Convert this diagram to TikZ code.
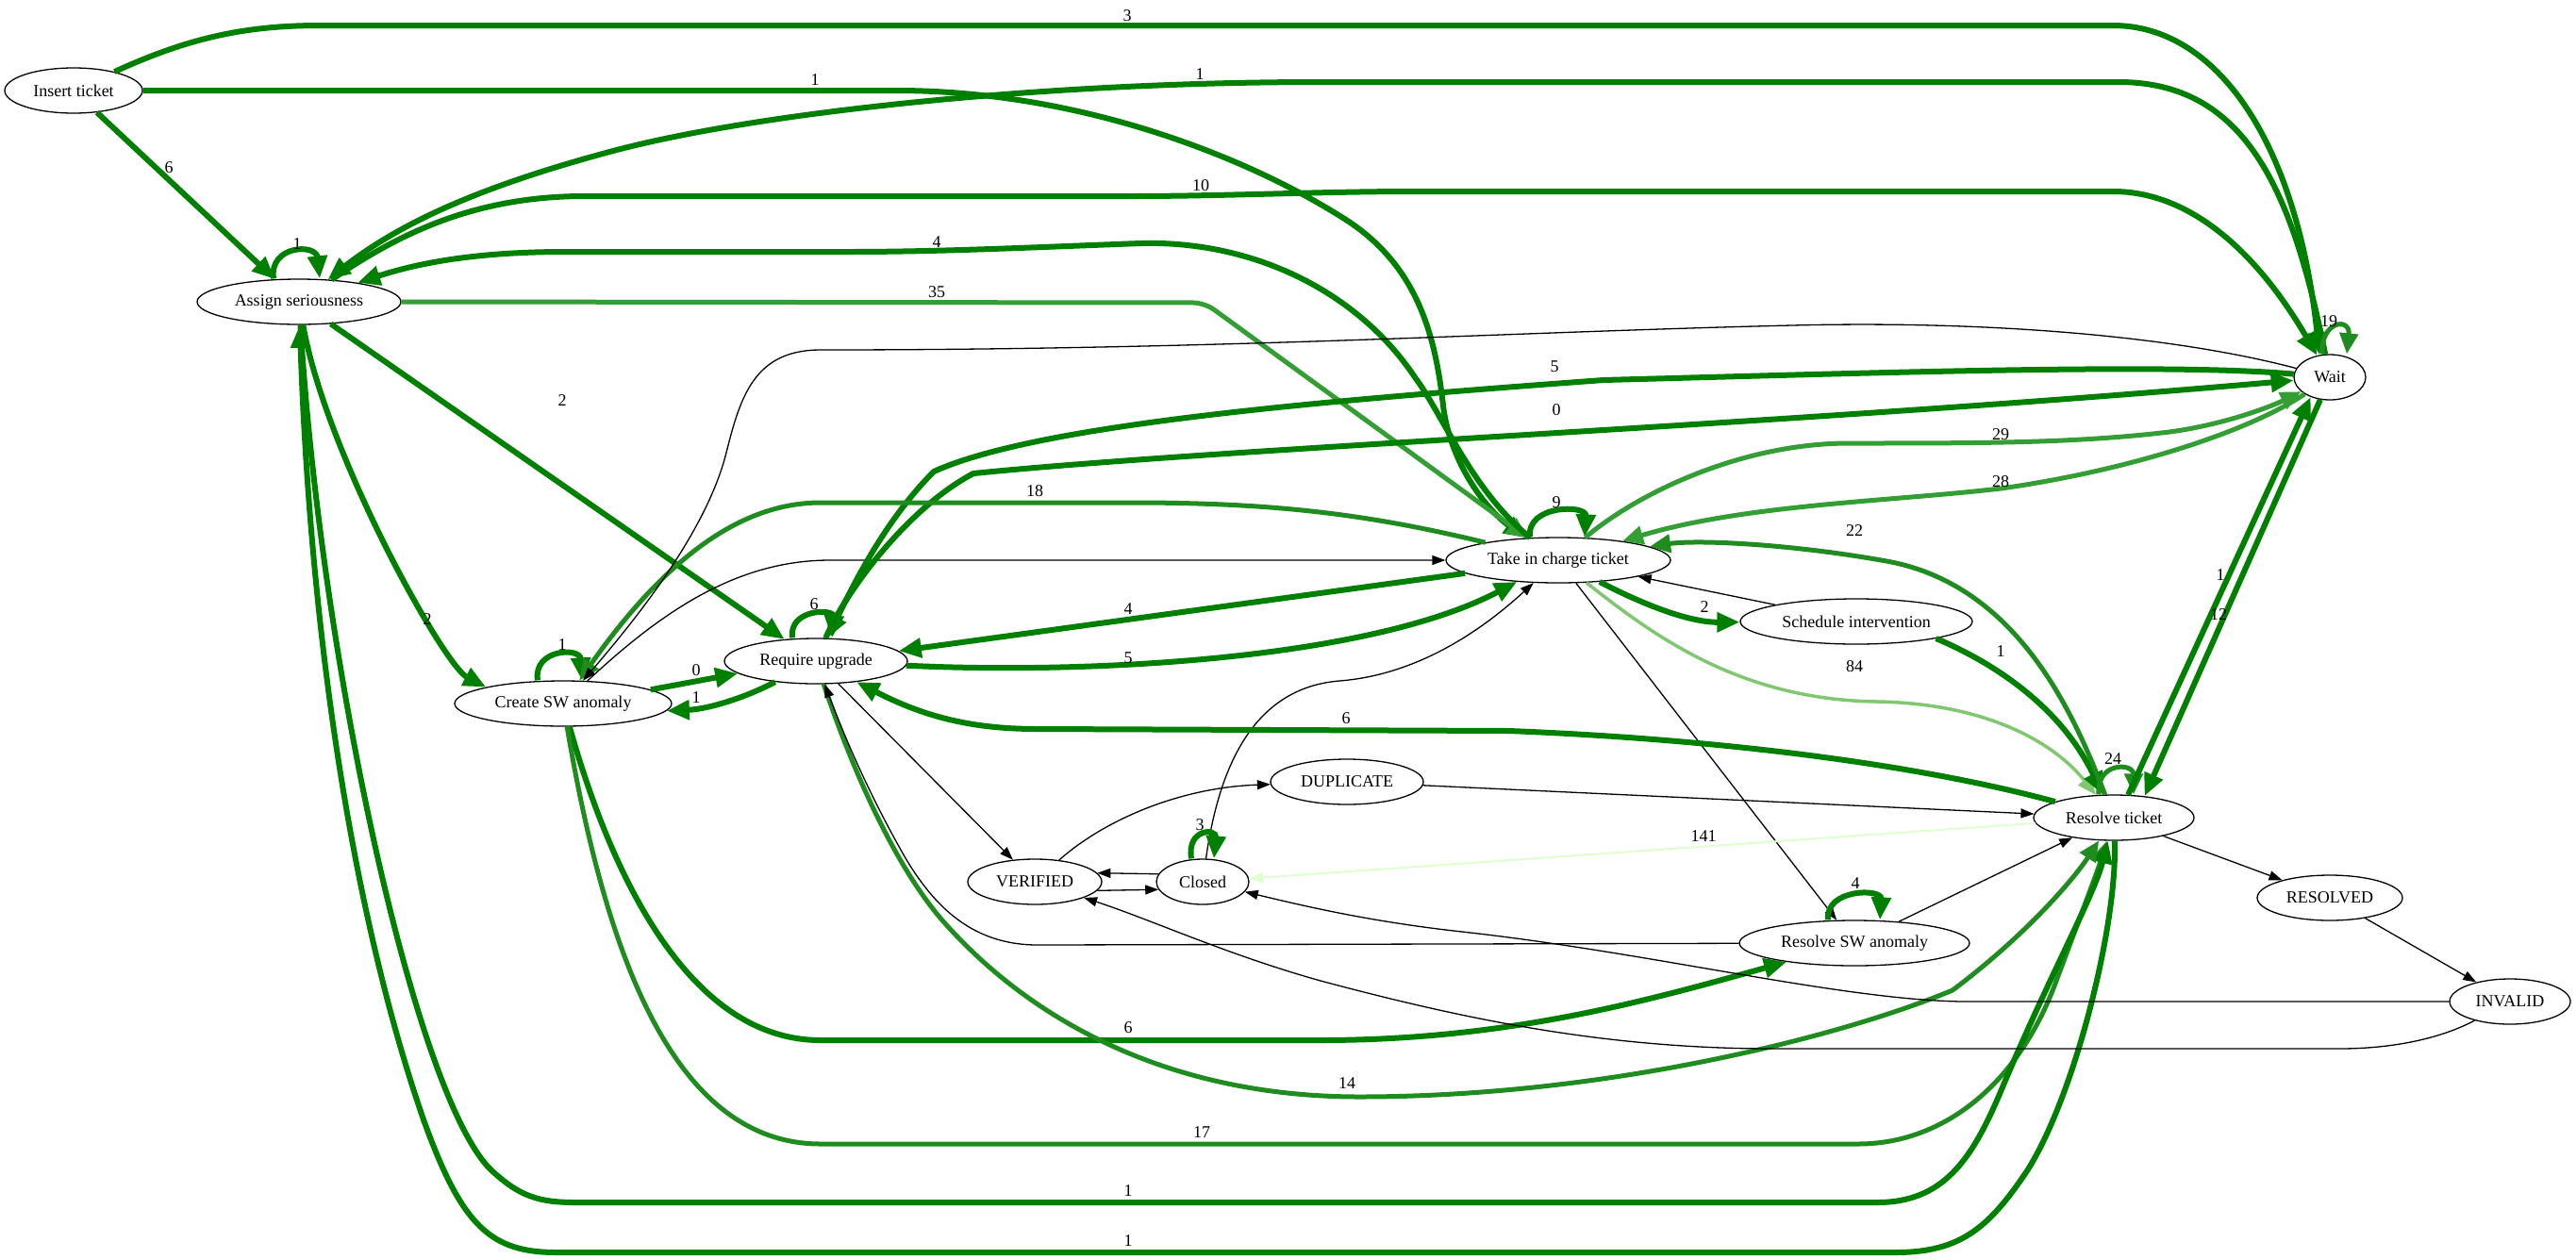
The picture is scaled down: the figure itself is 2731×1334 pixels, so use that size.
\documentclass[tikz,border=0pt]{standalone}
\usepackage{fontspec}
\setmainfont{Liberation Serif}
\usetikzlibrary{shapes.geometric,arrows.meta}
\definecolor{gA}{RGB}{0,128,0}
\definecolor{gB}{RGB}{30,140,30}
\definecolor{gC}{RGB}{51,158,51}
\definecolor{gD}{RGB}{128,200,112}
\definecolor{gE}{RGB}{224,255,208}
\begin{document}
\begin{tikzpicture}[x=1pt,y=-1pt,
  st/.style={ellipse,draw=black,line width=1.3pt,minimum height=48pt,inner sep=0pt,
             font=\fontsize{18}{20}\selectfont},
  lbl/.style={font=\fontsize{18}{20}\selectfont,inner sep=0pt},
  eA/.style={draw=gA,line width=6pt,-{Triangle[length=24pt,width=20pt]}},
  eB/.style={draw=gB,line width=5pt,-{Triangle[length=22pt,width=19pt]}},
  eC/.style={draw=gC,line width=5pt,-{Triangle[length=22pt,width=19pt]}},
  eD/.style={draw=gD,line width=3.5pt,-{Triangle[length=20pt,width=16pt]}},
  eE/.style={draw=gE,line width=2pt,-{Triangle[length=15pt,width=11pt]}},
  eK/.style={draw=black,line width=1.3pt,-{Triangle[length=14pt,width=10pt]}}]

\fill[white] (0,0) rectangle (2731,1334);
\useasboundingbox (0,0) rectangle (2731,1334);

% states
\node[st,minimum width=146pt] (ins) at (78,96) {Insert ticket};
\node[st,minimum width=216pt] (ass) at (317,320) {Assign seriousness};
\node[st,minimum width=230pt] (cre) at (597,746) {Create SW anomaly};
\node[st,minimum width=194pt] (req) at (865,701) {Require upgrade};
\node[st,minimum width=238pt] (tak) at (1652,594) {Take in charge ticket};
\node[st,minimum width=246pt] (sch) at (1968,659) {Schedule intervention};
\node[st,minimum width=170pt] (res) at (2241,867) {Resolve ticket};
\node[st,minimum width=76pt]  (wai) at (2470,400) {Wait};
\node[st,minimum width=162pt] (dup) at (1428,829) {DUPLICATE};
\node[st,minimum width=142pt] (ver) at (1097,935) {VERIFIED};
\node[st,minimum width=98pt]  (clo) at (1275,935) {Closed};
\node[st,minimum width=244pt] (rsw) at (1966,1000) {Resolve SW anomaly};
\node[st,minimum width=154pt] (rsd) at (2470,952) {RESOLVED};
\node[st,minimum width=128pt] (inv) at (2661,1062) {INVALID};

% from Insert ticket
\draw[eA] (ins) .. controls (200,40) and (260,27) .. (340,27) -- (2240,27)
  .. controls (2350,27) and (2435,150) .. (wai.115);
\node[lbl] (l01) at (1195,17) {3};
\draw[eA] (ins.east) -- (950,96) .. controls (1150,96) and (1330,170) .. (1430,235)
  .. controls (1505,285) and (1522,360) .. (1530,430)
  .. controls (1537,490) and (1575,540) .. (tak);
\node[lbl] (l02) at (864,85) {1};
\draw[eA] (ins) -- (ass);
\node[lbl] (l03) at (179,178) {6};

% Assign seriousness
\draw[eA] ([xshift=-27pt]ass.north) .. controls (285,260) and (335,258) .. ([xshift=22pt]ass.north);
\node[lbl] (l04) at (315,259) {1};
\draw[eA] (ass) .. controls (420,250) and (500,208) .. (620,208) -- (1200,208)
  .. controls (1300,208) and (1400,203) .. (1500,203) -- (2240,203)
  .. controls (2330,203) and (2400,280) .. (wai);
\node[lbl] (l05) at (1273,197) {10};
\draw[eA] (wai) .. controls (2430,200) and (2380,87) .. (2246,87) -- (1400,87)
  .. controls (1100,87) and (800,120) .. (650,160)
  .. controls (500,200) and (420,240) .. (ass);
\node[lbl] (l06) at (1272,79) {1};
\draw[eC,rounded corners=12pt] (ass.east) -- (1277,321) -- (tak);
\node[lbl] (l07) at (993,310) {35};
\draw[eA] (tak) .. controls (1560,520) and (1530,440) .. (1500,400)
  .. controls (1440,310) and (1330,255) .. (1210,258)
  .. controls (1100,262) and (1000,267) .. (900,267) -- (600,267)
  .. controls (500,267) and (440,280) .. (ass);
\node[lbl] (l08) at (993,257) {4};
\draw[eA] (ass) -- (req);
\node[lbl] (l09) at (596,425) {2};
\draw[eA] (ass) .. controls (345,480) and (470,705) .. (cre.north west);
\node[lbl] (l10) at (453,657) {2};

% Create SW anomaly
\draw[eA] ([xshift=-27pt]cre.north) .. controls (565,688) and (615,686) .. ([xshift=20pt]cre.north);
\node[lbl] (l11) at (596,684) {1};
\draw[eA] (cre.9) -- (req.189);
\node[lbl] (l12) at (738,711) {0};
\draw[eA] (req.207) .. controls (790,740) and (750,752) .. (cre.356);
\node[lbl] (l13) at (738,740) {1};
\draw[eK] (cre) .. controls (700,650) and (780,594) .. (880,594) -- (tak);
\draw[eA] (cre) .. controls (640,900) and (720,1103) .. (870,1103) -- (1400,1103)
  .. controls (1600,1103) and (1750,1060) .. (rsw);
\node[lbl] (l14) at (1196,1090) {6};
\draw[eB] (cre) .. controls (640,1000) and (710,1213) .. (870,1213) -- (1970,1213)
  .. controls (2060,1213) and (2140,1150) .. (2180,1040)
  .. controls (2210,960) and (2225,920) .. (res);
\node[lbl] (l15) at (1274,1201) {17};

% Assign seriousness <-> Resolve ticket
\draw[eA] (ass) .. controls (340,700) and (440,1160) .. (520,1240)
  .. controls (550,1268) and (570,1275) .. (610,1275) -- (1990,1275)
  .. controls (2060,1275) and (2090,1230) .. (2120,1160)
  .. controls (2170,1040) and (2220,950) .. (res);
\node[lbl] (l16) at (1196,1263) {1};
\draw[eA] (res) .. controls (2245,980) and (2200,1160) .. (2150,1240)
  .. controls (2110,1300) and (2080,1328) .. (2010,1328) -- (590,1328)
  .. controls (520,1328) and (490,1300) .. (450,1190)
  .. controls (380,990) and (330,700) .. (ass);
\node[lbl] (l17) at (1196,1316) {1};

% Require upgrade
\draw[eA] ([xshift=-25pt]req.north) .. controls (836,645) and (885,645) .. ([xshift=17pt]req.north);
\node[lbl] (l18) at (863,641) {6};
\draw[eA] (req) .. controls (895,630) and (960,540) .. (1032,502)
  .. controls (1300,475) and (1900,450) .. (wai);
\node[lbl] (l19) at (1650,435) {0};
\draw[eA] (wai) .. controls (2300,385) and (2000,395) .. (1700,403)
  .. controls (1400,425) and (1100,450) .. (990,500)
  .. controls (935,555) and (900,630) .. (req);
\node[lbl] (l20) at (1648,389) {5};
\draw[eA] (req) .. controls (1150,715) and (1450,700) .. (tak);
\node[lbl] (l21) at (1196,698) {5};
\draw[eA] (tak.188) -- (req.7);
\node[lbl] (l22) at (1196,646) {4};
\draw[eK] (req) -- (ver);
\draw[eB] (req) .. controls (905,820) and (950,920) .. (1000,977)
  .. controls (1100,1090) and (1250,1163) .. (1441,1163)
  .. controls (1700,1163) and (1950,1100) .. (2070,1050)
  .. controls (2150,990) and (2200,930) .. (res);
\node[lbl] (l23) at (1428,1149) {14};

% Take in charge ticket
\draw[eA] ([xshift=-30pt]tak.north) .. controls (1618,535) and (1682,535) .. ([xshift=28pt]tak.north);
\node[lbl] (l24) at (1650,533) {9};
\draw[eB] (tak) .. controls (1450,545) and (1350,533) .. (1200,533) -- (870,533)
  .. controls (780,533) and (700,600) .. (cre);
\node[lbl] (l25) at (1097,521) {18};
\draw[eC] (tak) .. controls (1740,520) and (1850,470) .. (1960,470)
  .. controls (2100,470) and (2200,470) .. (2300,458)
  .. controls (2360,450) and (2410,430) .. (wai);
\node[lbl] (l26) at (2121,461) {29};
\draw[eC] (wai) .. controls (2380,460) and (2250,500) .. (2121,518)
  .. controls (2000,532) and (1850,535) .. (tak);
\node[lbl] (l27) at (2121,511) {28};
\draw[eA] (tak) .. controls (1740,640) and (1790,660) .. (sch);
\node[lbl] (l28) at (1807,644) {2};
\draw[eK] (sch) -- (tak);
\draw[eK] (tak) -- (rsw);
\draw[eD] (tak) .. controls (1760,680) and (1850,742) .. (1990,744)
  .. controls (2110,746) and (2180,790) .. (res);
\node[lbl] (l29) at (1966,707) {84};
\draw[eK] (clo) .. controls (1290,830) and (1320,730) .. (1420,722)
  .. controls (1510,715) and (1580,660) .. (tak);

% Schedule intervention
\draw[eA] (sch.-12) .. controls (2130,710) and (2190,760) .. (res);
\node[lbl] (l30) at (2121,691) {1};

% Resolve ticket
\draw[eB] ([xshift=-16pt]res.north) .. controls (2222,808) and (2262,808) .. ([xshift=21pt]res.north);
\node[lbl] (l31) at (2240,805) {24};
\draw[eB] (res) .. controls (2200,760) and (2140,620) .. (2000,595)
  .. controls (1900,577) and (1800,572) .. (tak);
\node[lbl] (l32) at (1966,563) {22};
\draw[eA] (res.58) -- (wai.226);
\node[lbl] (l33) at (2354,610) {1};
\draw[eA] (wai.247) -- (res.35);
\node[lbl] (l34) at (2352,652) {12};
\draw[eA] (res) .. controls (2050,815) and (1850,785) .. (1600,775) -- (1100,773)
  .. controls (1030,773) and (980,760) .. (req);
\node[lbl] (l35) at (1427,762) {6};
\draw[eE] (res) -- (clo);
\node[lbl] (l36) at (1806,887) {141};
\draw[eK] (res) -- (rsd);
\draw[eK] (rsd) -- (inv);

% Wait
\draw[eB] ([xshift=-8pt]wai.north) .. controls (2460,340) and (2492,336) .. ([xshift=18pt]wai.north);
\node[lbl] (l37) at (2469,341) {19};
\draw[eK] (wai) .. controls (2300,355) and (2100,340) .. (1900,345)
  .. controls (1600,352) and (1300,371) .. (870,371)
  .. controls (800,371) and (785,420) .. (770,480)
  .. controls (750,560) and (680,650) .. (cre);

% lower states
\draw[eK] (dup) -- (res);
\draw[eK] (ver) .. controls (1170,870) and (1250,835) .. (dup);
\draw[eK] (ver.-8) -- (clo.190);
\draw[eK] (clo.170) -- (ver.8);
\draw[eA] ([xshift=-12pt]clo.north) .. controls (1258,878) and (1290,878) .. ([xshift=12pt]clo.north);
\node[lbl] (l38) at (1272,875) {3};
\draw[eA] ([xshift=-28pt]rsw.north) .. controls (1935,942) and (1995,942) .. ([xshift=27pt]rsw.north);
\node[lbl] (l39) at (1967,937) {4};
\draw[eK] (rsw) -- (res);
\draw[eK] (rsw) -- (1100,1002) .. controls (1030,1002) and (990,960) .. (960,910)
  .. controls (920,840) and (895,780) .. (req);
\draw[eK] (inv) -- (2080,1062) .. controls (1950,1060) and (1750,1010) .. (1550,988)
  .. controls (1450,977) and (1380,960) .. (clo);
\draw[eK] (inv) .. controls (2590,1100) and (2540,1112) .. (2480,1112) -- (1880,1112)
  .. controls (1700,1112) and (1550,1080) .. (1400,1040)
  .. controls (1300,1012) and (1220,975) .. (ver);
\end{tikzpicture}
\end{document}
